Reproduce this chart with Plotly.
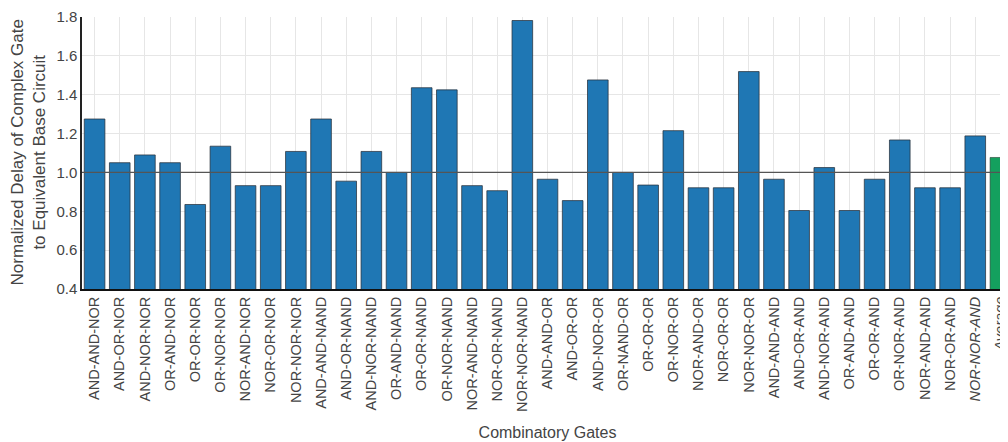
import plotly.graph_objects as go

categories = [
    "AND-AND-NOR", "AND-OR-NOR", "AND-NOR-NOR", "OR-AND-NOR", "OR-OR-NOR", "OR-NOR-NOR",
    "NOR-AND-NOR", "NOR-OR-NOR", "NOR-NOR-NOR",
    "AND-AND-NAND", "AND-OR-NAND", "AND-NOR-NAND", "OR-AND-NAND", "OR-OR-NAND", "OR-NOR-NAND",
    "NOR-AND-NAND", "NOR-OR-NAND", "NOR-NOR-NAND",
    "AND-AND-OR", "AND-OR-OR", "AND-NOR-OR", "OR-NAND-OR", "OR-OR-OR", "OR-NOR-OR",
    "NOR-AND-OR", "NOR-OR-OR", "NOR-NOR-OR",
    "AND-AND-AND", "AND-OR-AND", "AND-NOR-AND", "OR-AND-AND", "OR-OR-AND", "OR-NOR-AND",
    "NOR-AND-AND", "NOR-OR-AND", "NOR-NOR-AND",
]
values = [
    1.275, 1.05, 1.09, 1.05, 0.835, 1.135, 0.932, 0.932, 1.108,
    1.275, 0.955, 1.108, 1.0, 1.436, 1.425, 0.932, 0.906, 1.782,
    0.965, 0.855, 1.476, 1.0, 0.935, 1.215, 0.921, 0.921, 1.519,
    0.965, 0.804, 1.025, 0.804, 0.965, 1.167, 0.921, 0.921, 1.188,
]
average_label = "Average"
average_value = 1.077
italic_labels = ["NOR-NOR-AND", "Average"]
y_title = "Normalized Delay of Complex Gate<br>to Equivalent Base Circuit"
x_title = "Combinatory Gates"

all_cats = categories + [average_label]
ticktext = [f"<i>{c}</i>" if c in italic_labels else c for c in all_cats]

plot_w = 931
fig = go.Figure()
fig.add_trace(go.Bar(
    x=categories, y=values,
    marker=dict(color="#1f77b4", line=dict(color="rgba(40,50,60,0.75)", width=1)),
    showlegend=False,
))
fig.add_trace(go.Bar(
    x=[average_label], y=[average_value],
    marker=dict(color="#14a05e", line=dict(color="rgba(40,60,50,0.6)", width=1)),
    showlegend=False,
))
fig.add_hline(y=1.0, line=dict(color="#555555", width=1.3))

fig.add_annotation(
    text=y_title, xref="paper", yref="paper",
    x=-54.5 / plot_w, y=0.5, xanchor="center", yanchor="middle",
    textangle=-90, showarrow=False,
    font=dict(size=17, color="#444444"),
)

fig.update_layout(
    width=74 + plot_w + 30, height=442,
    margin=dict(l=74, r=30, t=9, b=161, autoexpand=False),
    paper_bgcolor="white", plot_bgcolor="white",
    bargap=0.18,
    font=dict(family="Liberation Sans, Arial, sans-serif", color="#444444"),
    xaxis=dict(
        type="category", categoryorder="array", categoryarray=all_cats,
        tickmode="array", tickvals=all_cats, ticktext=ticktext,
        tickangle=-90, tickfont=dict(size=14.5),
        showgrid=True, gridcolor="#e6e6e6",
        showline=True, linecolor="#111111", linewidth=2,
        automargin=False,
        title=dict(text=x_title, font=dict(size=16), standoff=16),
    ),
    yaxis=dict(
        range=[0.4, 1.8], dtick=0.2, tickformat=".1f",
        tickfont=dict(size=15),
        showgrid=True, gridcolor="#e6e6e6",
        showline=True, linecolor="#222222", linewidth=1.5,
        zeroline=False, automargin=False,
        ticklabeloverflow="allow",
    ),
)

fig.write_html("out.html")
